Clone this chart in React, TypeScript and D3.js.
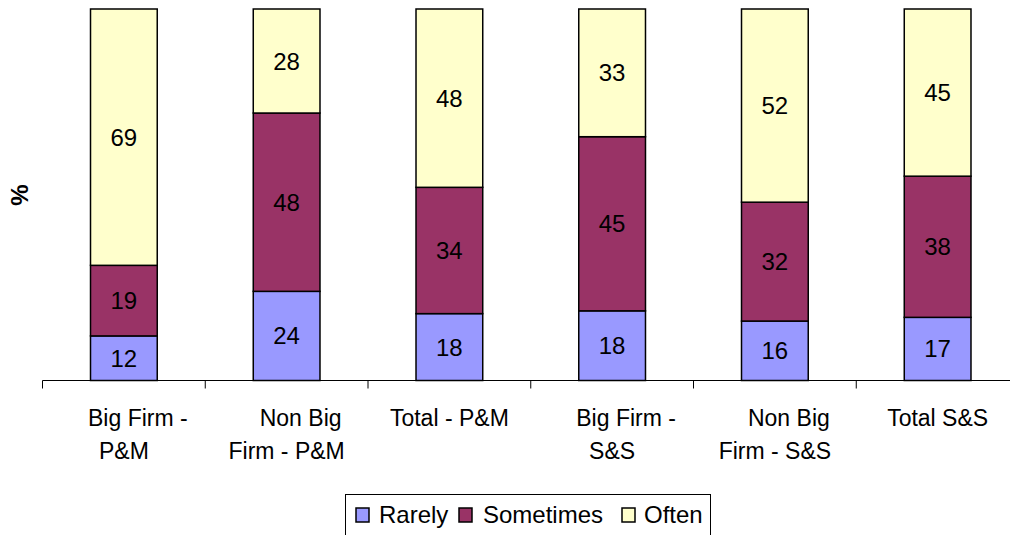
import React from "react";
import * as d3 from "d3";

const categories = [
  ["Big Firm -", "P&M"],
  ["Non Big", "Firm - P&M"],
  ["Total - P&M"],
  ["Big Firm -", "S&S"],
  ["Non Big", "Firm - S&S"],
  ["Total S&S"],
];
const rarely = [12, 24, 18, 18, 16, 17];
const sometimes = [19, 48, 34, 45, 32, 38];
const often = [69, 28, 48, 33, 52, 45];
const seriesNames = ["Rarely", "Sometimes", "Often"];
const seriesColors = ["#9999FF", "#993366", "#FFFFCC"];

export default function App() {
  const W = 1010, H = 535;
  const x0 = 42.5, bandW = 162.75;
  const yTop = 9, yBot = 380.5;
  const keys = seriesNames;
  const rows = categories.map((c, i) => ({
    idx: i,
    Rarely: rarely[i],
    Sometimes: sometimes[i],
    Often: often[i],
  }));
  const stack = d3.stack<any>().keys(keys).offset(d3.stackOffsetExpand);
  const stacked = stack(rows);
  const x = d3
    .scaleBand<number>()
    .domain(categories.map((_, i) => i))
    .range([x0, x0 + bandW * categories.length])
    .paddingInner(0.59)
    .paddingOuter(0.295);
  const xTicks = d3.scaleLinear().domain([0, categories.length]).range([x0, x0 + bandW * categories.length]);
  const y = d3.scaleLinear().domain([0, 1]).range([yBot, yTop]);
  const font = "'Liberation Sans', Arial, sans-serif";
  const fsVal = 24;
  const fsAxis = 23;
  const fsLeg = 24;

  const legendItems = [
    { name: "Rarely", sx: 356, tx: 379 },
    { name: "Sometimes", sx: 459, tx: 483 },
    { name: "Often", sx: 622, tx: 644 },
  ];

  return (
    <svg width={W} height={H} style={{ position: "absolute", left: 0, top: 0, background: "#fff" }} fontFamily={font}>
      {stacked.map((s, si) =>
        s.map((d, i) => {
          const bx = x(i)!;
          const y1 = y(d[1]);
          const y0 = y(d[0]);
          const val = (rows[i] as any)[keys[si]];
          return (
            <g key={si + "-" + i}>
              <rect x={bx} y={y1} width={x.bandwidth()} height={y0 - y1} fill={seriesColors[si]} stroke="#000" strokeWidth={1.5} />
              <text x={bx + x.bandwidth() / 2} y={(y0 + y1) / 2} textAnchor="middle" dominantBaseline="central" fontSize={fsVal} fill="#000">
                {val}
              </text>
            </g>
          );
        })
      )}
      <line x1={x0} x2={W + 20} y1={yBot} y2={yBot} stroke="#000" strokeWidth={1.2} />
      {d3.range(0, categories.length + 1).map((t) => (
        <line key={t} x1={xTicks(t)} x2={xTicks(t)} y1={yBot} y2={yBot + 8} stroke="#000" strokeWidth={1} />
      ))}
      {categories.map((c, i) => {
        const cx = x(i)! + x.bandwidth() / 2;
        return (
          <text key={i} textAnchor="middle" fontSize={fsAxis} fill="#000">
            {c.map((line, li) => (
              <tspan key={li} x={cx + (c.length > 1 && li === 0 ? 14 : 0)} y={426 + li * 32.6}>
                {line}
              </tspan>
            ))}
          </text>
        );
      })}
      <text transform={`translate(28,195) rotate(-90)`} textAnchor="middle" fontSize={24} fontWeight="bold" fill="#000">
        %
      </text>
      <rect x={345.5} y={494.5} width={365} height={45} fill="#fff" stroke="#000" strokeWidth={1} />
      {legendItems.map((it, i) => (
        <g key={it.name}>
          <rect x={it.sx} y={508} width={13} height={14} fill={seriesColors[i]} stroke="#000" strokeWidth={1.5} />
          <text x={it.tx} y={523} fontSize={fsLeg} fill="#000">
            {it.name}
          </text>
        </g>
      ))}
    </svg>
  );
}
